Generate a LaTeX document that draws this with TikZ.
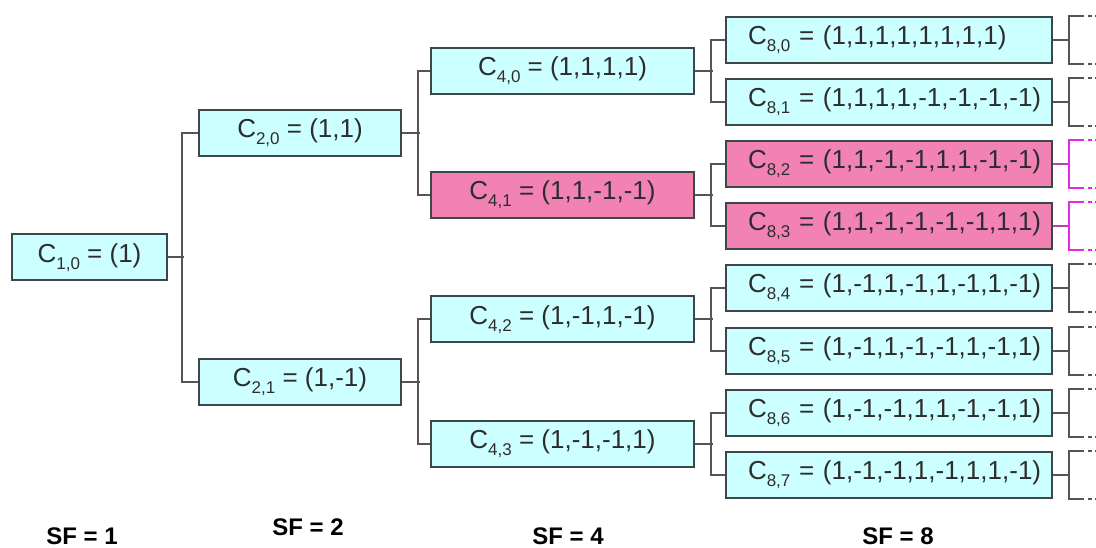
\documentclass[tikz,border=0pt]{standalone}
\usepackage{fontspec}
\setmainfont{Liberation Sans}
\definecolor{cyanfill}{RGB}{204,255,255}
\definecolor{pinkfill}{RGB}{243,130,180}
\definecolor{boxline}{RGB}{60,72,72}
\definecolor{conn}{RGB}{85,85,85}
\definecolor{txt}{RGB}{45,45,45}
\definecolor{mag}{RGB}{230,40,230}
\definecolor{magstub}{RGB}{175,70,175}
\newcommand\sbs[1]{\raisebox{-0.28em}{\fontsize{17}{17}\selectfont #1}}
\tikzset{
  box/.style={draw=boxline, line width=2pt, fill=cyanfill, minimum height=46pt,
    inner sep=0pt, text=txt, font=\fontsize{26}{30}\selectfont},
  pinkbox/.style={box, fill=pinkfill},
  wide/.style={inner xsep=22pt, text width=282pt, align=left},
  link/.style={draw=conn, line width=2pt},
  brk/.style={draw=conn, line width=2pt},
  brkdash/.style={draw=conn, line width=2pt, dash pattern=on 4pt off 3pt},
  sflabel/.style={font=\fontsize{24}{28}\selectfont\bfseries, text=black, inner sep=0pt}
}
\begin{document}
\begin{tikzpicture}[x=1pt,y=-1pt]
\useasboundingbox[fill=white] (0,0) rectangle (1096,548);

% level 1
\node[box, minimum width=155pt] (c10) at (89.5,257.5) {C\sbs{1,0} = (1)};
% level 2
\node[box, minimum width=202pt] (c20) at (300,133) {C\sbs{2,0} = (1,1)};
\node[box, minimum width=202pt] (c21) at (300,382) {C\sbs{2,1} = (1,-1)};
% level 4
\node[box, minimum width=263pt] (c40) at (562.5,71) {C\sbs{4,0} = (1,1,1,1)};
\node[pinkbox, minimum width=263pt] (c41) at (562.5,195) {C\sbs{4,1} = (1,1,-1,-1)};
\node[box, minimum width=263pt] (c42) at (562.5,319.5) {C\sbs{4,2} = (1,-1,1,-1)};
\node[box, minimum width=263pt] (c43) at (562.5,444) {C\sbs{4,3} = (1,-1,-1,1)};
% level 8
\node[box, wide] (c80) at (889,40) {\mbox{C\sbs{8,0} = (1,1,1,1,1,1,1,1)}};
\node[box, wide] (c81) at (889,102) {\mbox{C\sbs{8,1} = (1,1,1,1,-1,-1,-1,-1)}};
\node[pinkbox, wide] (c82) at (889,164) {\mbox{C\sbs{8,2} = (1,1,-1,-1,1,1,-1,-1)}};
\node[pinkbox, wide] (c83) at (889,226) {\mbox{C\sbs{8,3} = (1,1,-1,-1,-1,-1,1,1)}};
\node[box, wide] (c84) at (889,288) {\mbox{C\sbs{8,4} = (1,-1,1,-1,1,-1,1,-1)}};
\node[box, wide] (c85) at (889,351) {\mbox{C\sbs{8,5} = (1,-1,1,-1,-1,1,-1,1)}};
\node[box, wide] (c86) at (889,413) {\mbox{C\sbs{8,6} = (1,-1,-1,1,1,-1,-1,1)}};
\node[box, wide] (c87) at (889,475) {\mbox{C\sbs{8,7} = (1,-1,-1,1,-1,1,1,-1)}};

% connectors level 1 -> 2
\draw[link] (c10.east) -- ++(16,0);
\draw[link] (c20.west) -- ++(-16,0) |- (c21.west);
% level 2 -> 4
\draw[link] (c20.east) -- ++(18,0);
\draw[link] (c40.west) -- ++(-12,0) |- (c41.west);
\draw[link] (c21.east) -- ++(18,0);
\draw[link] (c42.west) -- ++(-12,0) |- (c43.west);
% level 4 -> 8
\draw[link] (c40.east) -- ++(18,0);
\draw[link] (c80.west) -- ++(-14,0) |- (c81.west);
\draw[link] (c41.east) -- ++(18,0);
\draw[link] (c82.west) -- ++(-14,0) |- (c83.west);
\draw[link] (c42.east) -- ++(18,0);
\draw[link] (c84.west) -- ++(-14,0) |- (c85.west);
\draw[link] (c43.east) -- ++(18,0);
\draw[link] (c86.west) -- ++(-14,0) |- (c87.west);

% brackets to the next level
\foreach \n in {c80, c81, c84, c85, c86, c87} {
  \draw[link] (\n.east) -- ++(16,0);
  \draw[brk] ([xshift=31pt]\n.north east) -| ([xshift=16pt]\n.east) |- ([xshift=31pt]\n.south east);
  \draw[brkdash] ([xshift=35pt]\n.north east) -- ++(9,0);
  \draw[brkdash] ([xshift=35pt]\n.south east) -- ++(9,0);
}
\foreach \n in {c82, c83} {
  \draw[link, draw=magstub] (\n.east) -- ++(16,0);
  \draw[brk, draw=mag] ([xshift=31pt]\n.north east) -| ([xshift=16pt]\n.east) |- ([xshift=31pt]\n.south east);
  \draw[brkdash, draw=mag] ([xshift=35pt]\n.north east) -- ++(9,0);
  \draw[brkdash, draw=mag] ([xshift=35pt]\n.south east) -- ++(9,0);
}

% SF labels
\node[sflabel] (sf1) at (82,536) {SF = 1};
\node[sflabel] (sf2) at (308,527) {SF = 2};
\node[sflabel] (sf4) at (568,536) {SF = 4};
\node[sflabel] (sf8) at (898,536) {SF = 8};
\end{tikzpicture}
\end{document}
